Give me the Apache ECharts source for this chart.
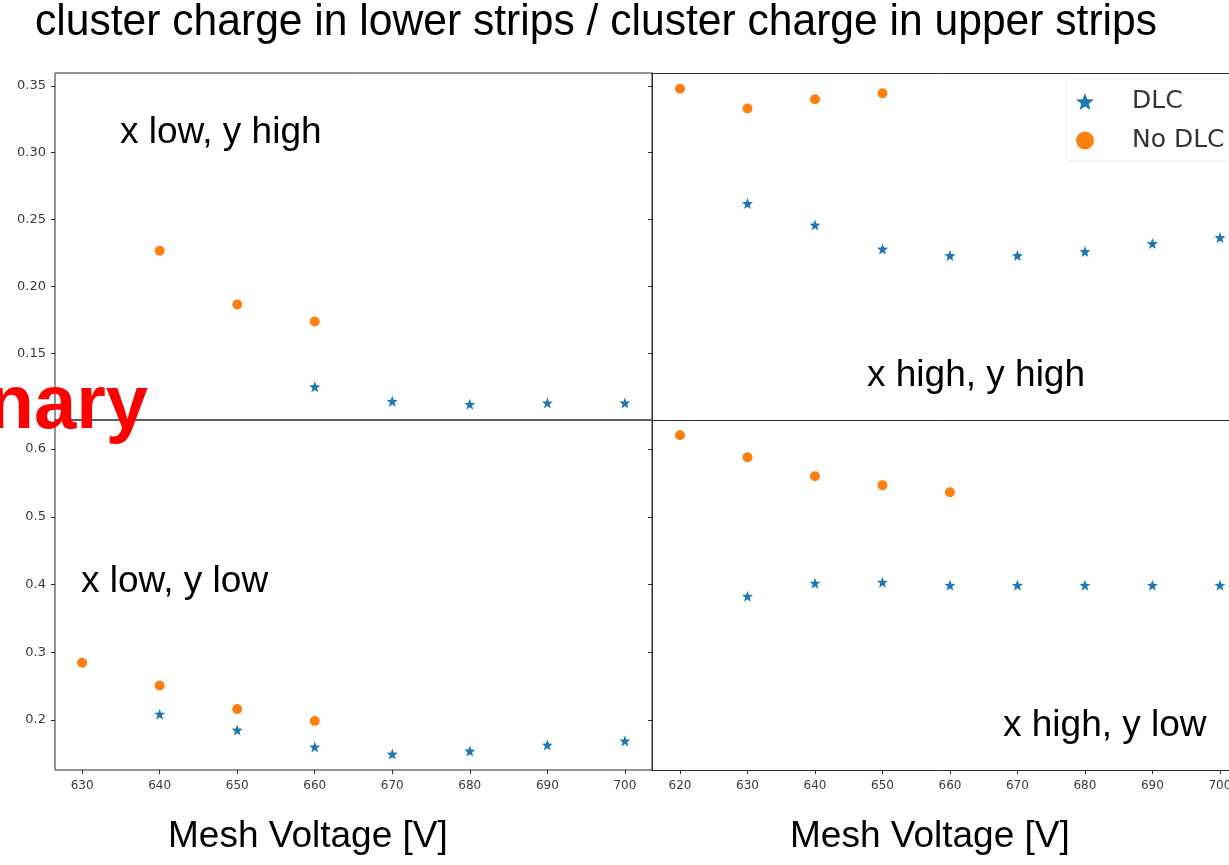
<!DOCTYPE html>
<html>
<head>
<meta charset="utf-8">
<title>cluster charge ratio</title>
<script src="https://cdn.jsdelivr.net/npm/echarts@6/dist/echarts.min.js"></script>
<style>
  html, body { margin: 0; padding: 0; background: #fff; }
  #chart { width: 1229px; height: 865px; }
</style>
</head>
<body>
<div id="chart"></div>
<script>
// Mesh voltages (V) for each measurement set
const voltsLowYHighDLC   = [660, 670, 680, 690, 700];
const voltsLowYHighNoDLC = [640, 650, 660];
const voltsHighYHighDLC   = [630, 640, 650, 660, 670, 680, 690, 700];
const voltsHighYHighNoDLC = [620, 630, 640, 650];
const voltsLowYLowDLC   = [640, 650, 660, 670, 680, 690, 700];
const voltsLowYLowNoDLC = [630, 640, 650, 660];
const voltsHighYLowDLC   = [630, 640, 650, 660, 670, 680, 690, 700];
const voltsHighYLowNoDLC = [620, 630, 640, 650, 660];

// Charge ratio: lower strips / upper strips
const ratioLowYHighDLC   = [0.1250, 0.1142, 0.1120, 0.1130, 0.1130];
const ratioLowYHighNoDLC = [0.2267, 0.1866, 0.1739];
const ratioHighYHighDLC   = [0.2620, 0.2460, 0.2280, 0.2231, 0.2231, 0.2261, 0.2321, 0.2366];
const ratioHighYHighNoDLC = [0.3478, 0.3330, 0.3400, 0.3445];
const ratioLowYLowDLC   = [0.2085, 0.1850, 0.1600, 0.1496, 0.1540, 0.1630, 0.1690];
const ratioLowYLowNoDLC = [0.2843, 0.2508, 0.2162, 0.1985];
const ratioHighYLowDLC   = [0.3827, 0.4020, 0.4034, 0.3990, 0.3990, 0.3990, 0.3990, 0.3990];
const ratioHighYLowNoDLC = [0.6205, 0.5880, 0.5600, 0.5468, 0.5363];

// Tick labels
const xTicksLeft  = [630, 640, 650, 660, 670, 680, 690, 700];
const xTicksRight = [620, 630, 640, 650, 660, 670, 680, 690, 700];
const yTicksTop    = [0.10, 0.15, 0.20, 0.25, 0.30, 0.35];
const yTicksBottom = [0.2, 0.3, 0.4, 0.5, 0.6];

// Axis extents (right column runs off the page edge)
const xRangeLeft  = [626.5, 703.5];
const xRangeRight = [615.85, 701.35];
const yRangeTop    = [0.1002, 0.3596];
const yRangeBottom = [0.126, 0.643];

const pairs = (xs, ys) => xs.map((x, i) => [x, ys[i]]);

// five-pointed star marker
function starPath() {
  const pts = [];
  for (let i = 0; i < 10; i++) {
    const r = i % 2 === 0 ? 1 : 0.42;
    const a = -Math.PI / 2 + i * Math.PI / 5;
    pts.push((r * Math.cos(a)).toFixed(4) + ',' + (r * Math.sin(a)).toFixed(4));
  }
  return 'path://M' + pts.join('L') + 'Z';
}
const STAR = starPath();
const BLUE = '#1f77b4';
const ORANGE = '#ff7f0e';
const SPINE = '#2b2b2b';

// left column: full box; right column: spines come from the axis lines
const grids = [
  { left: 55,  top: 73,  width: 597, height: 347, show: true },
  { left: 652, top: 73,  right: 0,   height: 347, show: false },
  { left: 55,  top: 420, width: 597, height: 350, show: true },
  { left: 652, top: 420, right: 0,   height: 350, show: false }
].map(g => Object.assign({
  borderColor: SPINE, borderWidth: 1, backgroundColor: 'transparent',
  containLabel: false, outerBoundsMode: 'none'
}, g));

const xLabelStyle = { color: '#3a3a3a', fontFamily: 'DejaVu Sans', fontSize: 12 };
const yLabelStyle = { color: '#3a3a3a', fontFamily: 'DejaVu Sans', fontSize: 13 };

function xAxis(gridIndex, range, ticks, showLabels, showLine) {
  return {
    gridIndex, type: 'value', min: range[0], max: range[1], position: 'bottom',
    splitLine: { show: false },
    axisLine: { show: showLine, onZero: false, lineStyle: { color: SPINE, width: 1 } },
    axisTick: { show: showLabels, customValues: ticks, length: 4, inside: false, lineStyle: { color: SPINE } },
    axisLabel: Object.assign({ show: showLabels, customValues: ticks, margin: 10, formatter: v => String(Math.round(v)) }, xLabelStyle)
  };
}
function yAxis(gridIndex, range, ticks, showLabels, digits, showLine) {
  return {
    gridIndex, type: 'value', min: range[0], max: range[1], position: 'left',
    splitLine: { show: false },
    axisLine: { show: showLine, onZero: false, lineStyle: { color: SPINE, width: 1 } },
    axisTick: { show: true, customValues: ticks, length: 4, inside: false, lineStyle: { color: SPINE } },
    axisLabel: Object.assign({ show: showLabels, customValues: ticks, margin: 9, formatter: v => v.toFixed(digits) }, yLabelStyle)
  };
}

function scatter(name, idx, data) {
  const dlc = name === 'DLC';
  return {
    name, type: 'scatter', xAxisIndex: idx, yAxisIndex: idx, data,
    symbol: dlc ? STAR : 'circle',
    symbolSize: dlc ? 11 : 10,
    itemStyle: { color: dlc ? BLUE : ORANGE, opacity: 1 },
    z: dlc ? 3 : 2
  };
}

function label(text, x, y, size, opts) {
  return Object.assign({
    type: 'text', x, y, z: 10,
    style: Object.assign({
      text, x: 0, y: 0, fill: '#000',
      fontFamily: 'Liberation Sans', fontSize: size,
      align: 'left', verticalAlign: 'middle'
    }, (opts && opts.style) || {})
  }, (opts && opts.el) || {});
}

const option = {
  animation: false,
  backgroundColor: '#fff',
  grid: grids,
  xAxis: [
    xAxis(0, xRangeLeft, xTicksLeft, false, false),
    xAxis(1, xRangeRight, xTicksRight, false, true),
    xAxis(2, xRangeLeft, xTicksLeft, true, false),
    xAxis(3, xRangeRight, xTicksRight, true, true),
    // top spine of the upper-right panel
    Object.assign(xAxis(1, xRangeRight, xTicksRight, false, true), { position: 'top' })
  ],
  yAxis: [
    yAxis(0, yRangeTop, yTicksTop, true, 2, false),
    yAxis(1, yRangeTop, yTicksTop, false, 2, true),
    yAxis(2, yRangeBottom, yTicksBottom, true, 1, false),
    yAxis(3, yRangeBottom, yTicksBottom, false, 1, true)
  ],
  legend: {
    data: ['DLC', 'No DLC'],
    orient: 'vertical',
    left: 1066, top: 79,
    padding: [10, 60, 8, 10],
    itemWidth: 18, itemHeight: 18, itemGap: 14,
    borderColor: '#ececec', borderWidth: 1, borderRadius: 4,
    backgroundColor: 'rgba(255,255,255,0.8)',
    textStyle: { fontFamily: 'DejaVu Sans', fontSize: 25, color: '#333', padding: [0, 0, 0, 33] }
  },
  graphic: [
    label('cluster charge in lower strips / cluster charge in upper strips', 35, 23, 44, { el: { scaleX: 0.968 } }),
    label('x low, y high', 120, 133, 37),
    label('x high, y high', 867, 376, 37),
    label('x low, y low', 81, 582, 37),
    label('x high, y low', 1003, 726, 37),
    label('Mesh Voltage [V]', 168, 837, 37),
    label('Mesh Voltage [V]', 790, 837, 37),
    label('nary', 148, 407, 76, { style: { fill: '#ff0000', fontWeight: 'bold', align: 'right' } })
  ],
  series: [
    scatter('DLC', 0, pairs(voltsLowYHighDLC, ratioLowYHighDLC)),
    scatter('No DLC', 0, pairs(voltsLowYHighNoDLC, ratioLowYHighNoDLC)),
    scatter('DLC', 1, pairs(voltsHighYHighDLC, ratioHighYHighDLC)),
    scatter('No DLC', 1, pairs(voltsHighYHighNoDLC, ratioHighYHighNoDLC)),
    scatter('DLC', 2, pairs(voltsLowYLowDLC, ratioLowYLowDLC)),
    scatter('No DLC', 2, pairs(voltsLowYLowNoDLC, ratioLowYLowNoDLC)),
    scatter('DLC', 3, pairs(voltsHighYLowDLC, ratioHighYLowDLC)),
    scatter('No DLC', 3, pairs(voltsHighYLowNoDLC, ratioHighYLowNoDLC))
  ]
};

const chart = echarts.init(document.getElementById('chart'), null, { renderer: 'canvas' });
chart.setOption(option);
</script>
</body>
</html>
